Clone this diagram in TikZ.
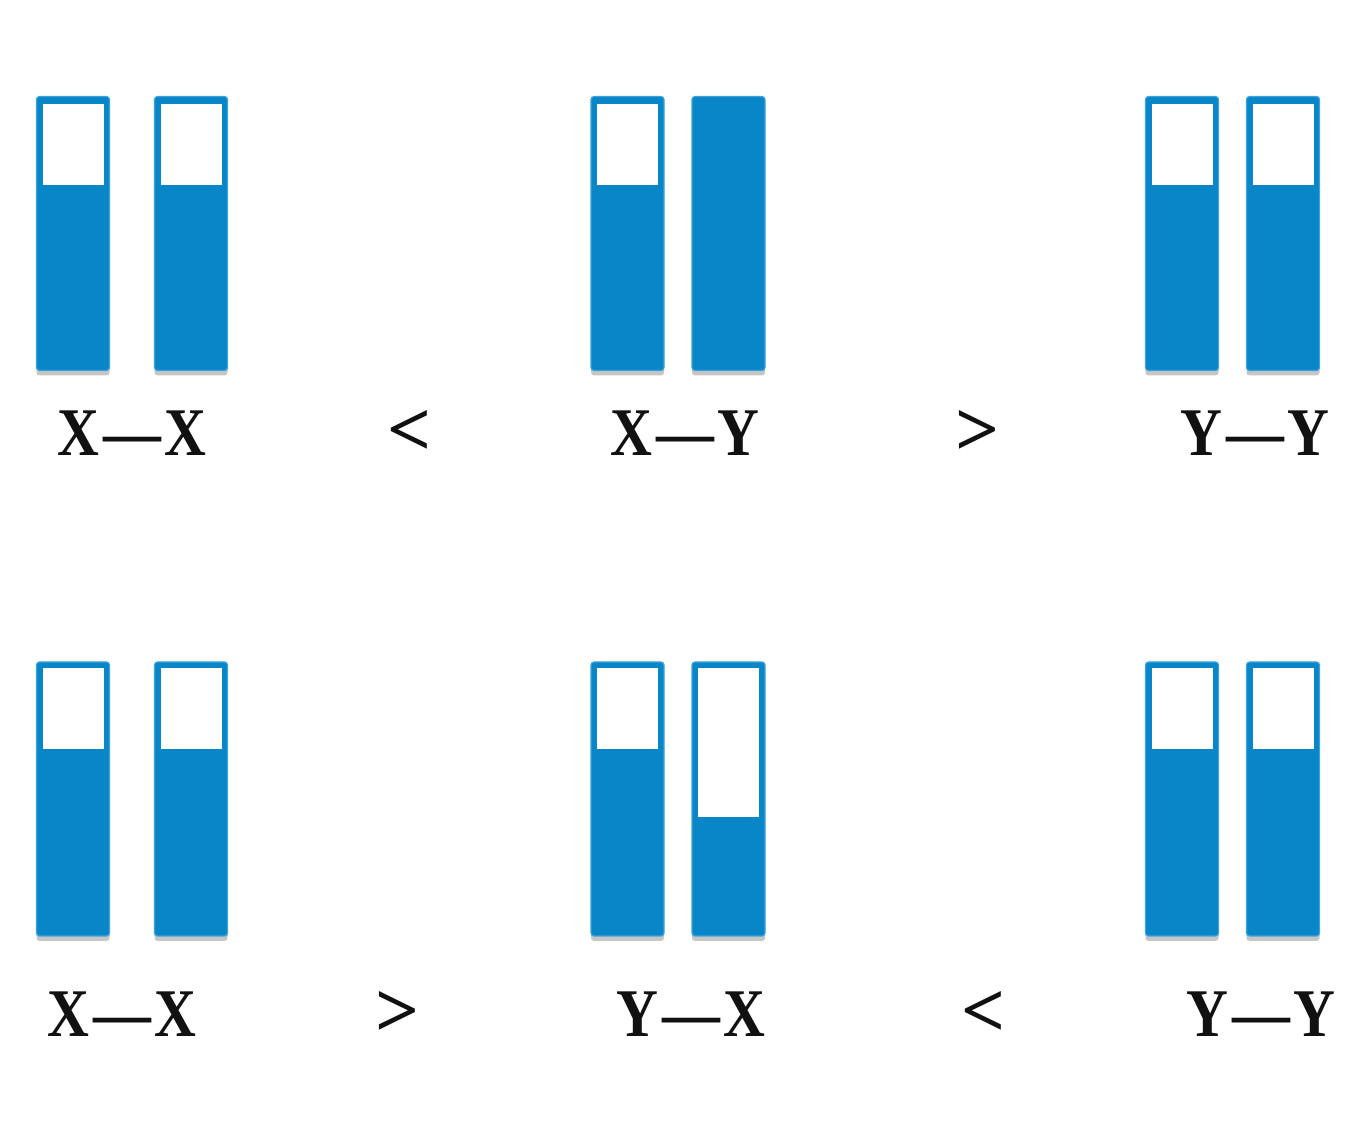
\documentclass[tikz,border=0pt]{standalone}
\usepackage{fontspec}
\usetikzlibrary{shadows}
\newfontfamily\labelfont[FakeStretch=0.85]{Liberation Serif}
\newfontfamily\relfont{Liberation Serif}
\newcommand\pairdash{\kern0.4mm—\kern0.4mm}
\definecolor{ChromoBlue}{HTML}{0886C8}
\definecolor{ChromoEdge}{HTML}{3FA2DD}
\definecolor{LabelInk}{HTML}{111111}
\tikzset{
  chromo/.style={fill=ChromoBlue, draw=ChromoEdge, line width=0.12mm, rounded corners=0.3mm, minimum width=7.3mm, minimum height=27.4mm, inner sep=0pt,
    drop shadow={shadow xshift=0mm, shadow yshift=-0.5mm, opacity=0.45}},
  slot/.style={fill=white, inner sep=0pt, minimum width=6.1mm, anchor=north},
  pairlab/.style={font=\labelfont\bfseries\fontsize{19.4}{20}\selectfont, text=LabelInk, anchor=base, inner sep=0pt},
  rellab/.style={font=\relfont\bfseries\fontsize{22}{24}\selectfont, text=LabelInk, anchor=base, inner sep=0pt},
}
\begin{document}
\begin{tikzpicture}[x=0.1mm, y=-0.1mm]
    \useasboundingbox (0,0) rectangle (1372,1140);
    % top row
    \node[chromo] (a1) at (73,233.5) {};
    \node[chromo] (a2) at (191,233.5) {};
    \node[chromo] (a3) at (627.5,233.5) {};
    \node[chromo] (a4) at (728.5,233.5) {};
    \node[chromo] (a5) at (1182,233.5) {};
    \node[chromo] (a6) at (1283,233.5) {};
    \node[slot, minimum height=8.1mm] (a1s) at ([yshift=-0.7mm]a1.north) {};
    \node[slot, minimum height=8.1mm] (a2s) at ([yshift=-0.7mm]a2.north) {};
    \node[slot, minimum height=8.1mm] (a3s) at ([yshift=-0.7mm]a3.north) {};
    \node[slot, minimum height=8.1mm] (a5s) at ([yshift=-0.7mm]a5.north) {};
    \node[slot, minimum height=8.1mm] (a6s) at ([yshift=-0.7mm]a6.north) {};
    \node[pairlab] (la1) at (132,456) {X\pairdash X};
    \node[rellab] (ra1) at (410,456) {<};
    \node[pairlab] (la2) at (685,456) {X\pairdash Y};
    \node[rellab] (ra2) at (978,456) {>};
    \node[pairlab] (la3) at (1255,456) {Y\pairdash Y};
    % bottom row
    \node[chromo] (b1) at (73,799) {};
    \node[chromo] (b2) at (191,799) {};
    \node[chromo] (b3) at (627.5,799) {};
    \node[chromo] (b4) at (728.5,799) {};
    \node[chromo] (b5) at (1182,799) {};
    \node[chromo] (b6) at (1283,799) {};
    \node[slot, minimum height=8.1mm] (b1s) at ([yshift=-0.6mm]b1.north) {};
    \node[slot, minimum height=8.1mm] (b2s) at ([yshift=-0.6mm]b2.north) {};
    \node[slot, minimum height=8.1mm] (b3s) at ([yshift=-0.6mm]b3.north) {};
    \node[slot, minimum height=14.9mm] (b4s) at ([yshift=-0.6mm]b4.north) {};
    \node[slot, minimum height=8.1mm] (b5s) at ([yshift=-0.6mm]b5.north) {};
    \node[slot, minimum height=8.1mm] (b6s) at ([yshift=-0.6mm]b6.north) {};
    \node[pairlab] (lb1) at (122,1037) {X\pairdash X};
    \node[rellab] (rb1) at (398,1037) {>};
    \node[pairlab] (lb2) at (691,1037) {Y\pairdash X};
    \node[rellab] (rb2) at (984,1037) {<};
    \node[pairlab] (lb3) at (1261,1037) {Y\pairdash Y};
\end{tikzpicture}
\end{document}
